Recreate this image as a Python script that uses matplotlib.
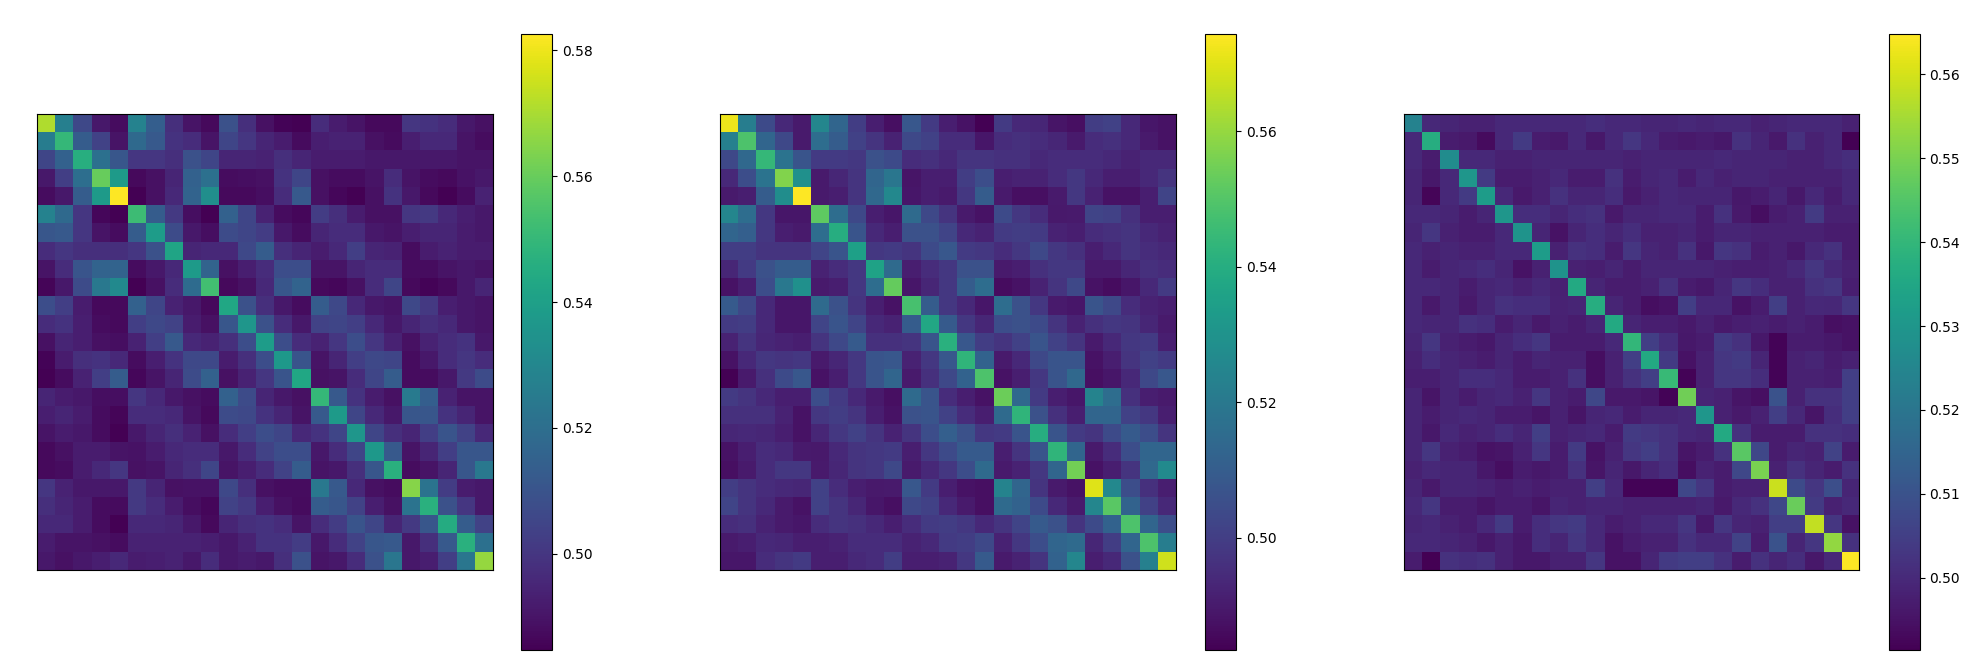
import numpy as np
import matplotlib
matplotlib.use('Agg')
import matplotlib.pyplot as plt

# values, in thousandths
matrix_a = [
    [571, 527, 506, 491, 488, 528, 514, 498, 490, 487, 509, 498, 489, 485.5, 485, 497, 492, 490, 487, 487, 500, 499, 497, 491, 489],
    [526, 550, 513, 504, 490, 518, 512, 499, 497, 490, 505, 500, 495, 492, 487.5, 493, 494, 494, 489, 487.5, 493, 496, 496, 490, 488],
    [505, 515, 546, 521, 511, 500, 500, 498, 509, 505, 495, 495, 494, 498, 495, 492, 492, 492, 491, 491, 491, 491, 491, 490, 490],
    [491, 503, 520, 560, 538, 487, 489, 495, 515, 521, 488, 488.5, 489, 499, 505, 489, 488, 488, 490, 497, 490, 488, 487, 489.5, 491],
    [488, 491, 513, 538, 582.6, 485, 489, 496, 516, 533, 487, 487, 488.5, 497, 512, 489, 486.5, 484.7, 489, 499, 491, 487, 485, 488, 494],
    [528, 518, 500, 486.5, 485, 552, 513, 501, 488.5, 485, 515, 505, 494, 488, 486.5, 502, 498, 492, 489, 489, 500, 501, 496, 493, 491],
    [511, 512, 500, 490, 488, 513, 539, 507, 491, 488.5, 507, 505, 502, 491, 488, 495, 497, 497, 491, 490, 493, 495, 495, 492, 491],
    [497, 500, 498, 498, 498, 500, 509, 542, 495, 496, 496, 506, 513, 498, 495, 492, 496, 503, 495, 494, 488, 492, 494, 492, 492],
    [490, 497, 510, 516, 516, 488, 491, 496, 538, 516, 489, 493, 497, 508, 508, 490, 490, 495, 497, 497, 488, 488, 490, 491, 490],
    [486, 491, 507, 524, 531, 485, 489, 497, 519, 553, 487, 489, 496, 511, 516, 487, 486.5, 489, 497, 505, 487, 485.5, 487, 491, 495],
    [508, 503, 492, 487, 487, 515, 505, 494, 491, 487, 543, 509, 498, 491, 488, 513, 506, 496, 491, 490, 506, 501, 493, 491, 490],
    [497, 499, 493, 488, 487, 503, 506, 504, 492, 489, 511, 536, 509, 497, 491, 504, 505, 503, 496, 491, 495, 498, 496, 491, 490],
    [489, 495, 493, 489, 488.5, 494, 503, 512, 496, 494, 498, 508, 539, 508, 497, 494, 500, 508, 500, 494, 489, 494, 497, 499, 491],
    [485.5, 492, 498, 499, 496, 488, 493, 499, 506, 506, 492, 498, 508, 537, 510, 490, 495, 503, 506, 505, 488, 491, 497, 500, 497],
    [485, 488, 494, 503, 513, 486.5, 490, 495, 507, 515, 489, 494, 500, 510, 543, 489, 490, 497, 505, 513, 488, 488, 491, 501, 507],
    [495, 492, 491, 488.5, 488.5, 500, 496, 491, 489, 488, 515, 507, 495, 491, 489, 550, 512, 499, 492, 489, 525, 514, 494, 490, 490],
    [493, 495, 492, 488, 486, 497, 497, 496, 490, 487, 507, 506, 499, 495, 490, 512, 538, 505, 496, 491, 511, 511, 499, 495, 490],
    [490, 492, 491, 488, 485, 491, 495, 498, 494, 489, 497, 503, 508, 505, 496, 499, 505, 536, 505, 498, 495, 503, 510, 504, 496],
    [487, 489, 492, 492, 490, 489.5, 492, 496, 497, 497, 491, 497, 504, 508, 508, 491, 497, 505, 537, 512, 490, 495, 503, 511, 511],
    [487, 488, 492, 496, 500, 489, 490, 495, 498, 505, 490, 493, 497, 504, 513, 490, 491, 498, 511, 547, 488, 490, 495, 511, 524],
    [500, 494, 491, 491, 491, 501, 495, 489, 489.5, 489.5, 506, 498, 489, 488, 488, 524, 512, 496, 489, 488, 565, 522, 502, 492, 491],
    [498, 495, 492, 488, 487.5, 501, 497, 492, 488.5, 486.5, 504, 501, 493, 489, 487.5, 513, 511, 504, 493, 489, 522, 547, 509, 500, 491],
    [496, 496, 492, 488, 485, 496, 496, 495, 491, 487, 495, 498, 499, 497, 490, 497, 502, 510, 505, 495, 501, 511, 545, 513, 504],
    [492, 490, 490, 489, 488, 494, 494, 494, 494, 493, 491, 494, 499, 499, 502, 491, 497, 504, 511, 512, 491, 498, 512, 547, 521],
    [491, 489, 491, 493, 496, 492, 493, 494, 491, 497, 491, 492, 491, 498, 509, 490, 491, 497, 509, 523, 491, 493, 503, 523, 567],
]

matrix_b = [
    [572, 522, 504, 494, 490, 525, 513, 500, 491, 487, 508, 499, 491, 488, 483.4, 499, 494, 493, 488.5, 487, 500, 501, 494, 489, 488],
    [523, 549, 513, 503, 490, 516, 510, 501, 497, 492, 503, 501, 495, 495, 489, 495, 496, 495, 493, 490, 495, 496, 494, 490, 488],
    [503, 514, 544, 518, 507, 499, 499, 498, 506, 504, 495, 496, 494, 497, 497, 496, 496, 494, 495, 495, 495, 494, 492, 494, 494],
    [494, 505, 518, 557, 529, 490, 493, 497, 513, 519, 488.5, 491, 491, 500, 505, 491, 492, 492, 495, 498, 494, 491, 491, 494, 497],
    [490, 491, 510, 528, 574.4, 490, 491, 497, 514, 526, 489, 491, 490, 498, 510, 490, 487, 487, 490, 498, 492, 488, 488, 491, 502],
    [525, 516, 498, 489, 489, 552, 516, 503, 491, 489, 515, 503, 497, 490, 488, 504, 498, 495, 489.5, 490, 502, 501, 496, 491, 491],
    [513, 511, 498, 491, 490, 516, 540, 507, 494, 491, 506, 506, 502, 494, 492, 499, 500, 499, 492, 491, 495, 496, 497, 494, 492],
    [500, 500, 497, 497, 497, 502, 507, 535, 498, 499, 497, 504, 508, 499, 498, 495, 498, 503, 498, 496, 491, 494, 497, 495, 494],
    [493, 499, 506, 510, 510, 492, 495, 498, 536, 515, 491, 495, 498, 506, 506, 490, 491, 496, 498, 498, 490, 490, 493, 496, 495],
    [488, 491, 505, 520, 529, 490, 491, 498, 516, 553, 489, 493, 498, 510, 516, 486.5, 488, 492, 497, 503, 488, 486.5, 489, 494, 499],
    [509, 503, 494, 489, 489, 515, 506, 497, 491, 488, 548, 510, 498, 494, 489, 516, 506, 498, 490, 489, 507, 503, 495, 492, 491],
    [499, 500, 494, 489, 489, 502, 507, 502, 494, 492, 510, 538, 509, 498, 493, 505, 506, 504, 497, 492, 496, 498, 497, 493, 490],
    [492, 497, 493, 492, 491, 497, 503, 509, 496, 496, 497, 507, 541, 508, 500, 497, 501, 507, 501, 497, 490, 494, 498, 499, 491],
    [488, 494, 498, 497, 498, 490, 493, 498, 507, 508, 492, 498, 508, 543, 512, 490, 494, 503, 507, 507, 488, 491, 497, 501, 499],
    [483.4, 490, 496, 504, 508, 488, 491, 498, 507, 513, 490, 496, 503, 512, 549, 488, 491, 498, 507, 514, 487, 489, 494, 503, 508],
    [499, 497, 494, 491, 491, 505, 499, 494, 490, 487, 515, 507, 495, 491, 488, 554, 514, 499, 491, 489, 524, 516, 496, 491, 490],
    [496, 496, 496, 492, 488, 498, 500, 497, 491, 488, 506, 507, 501, 495, 491, 515, 543, 506, 496, 491, 513, 513, 501, 498, 491],
    [493, 494, 493, 491, 488, 493, 498, 501, 497, 492, 497, 505, 511, 506, 498, 499, 507, 540, 507, 499, 497, 504, 509, 505, 497],
    [488, 491, 495, 494, 490, 489.5, 494, 497, 498, 499, 491, 498, 504, 509, 509, 491, 497, 507, 543, 513, 490, 495, 505, 513, 513],
    [487, 490, 495, 498, 498, 490, 493, 497, 498, 503, 490, 494, 498, 505, 515, 490, 492, 498, 513, 555, 488, 491, 497, 514, 527],
    [500, 497, 495, 494, 493, 501, 495, 491, 489.5, 490, 508, 499, 491, 488, 487, 524, 513, 497, 490, 488, 570, 526, 505, 496, 491],
    [502, 497, 494, 490, 488, 501, 497, 493, 489, 487, 503, 501, 494, 490, 487, 515, 512, 504, 494, 490, 525, 551, 512, 501, 494],
    [495, 496, 492, 490, 489, 495, 497, 496, 494, 491, 495, 499, 500, 498, 494, 497, 502, 509, 506, 497, 504, 512, 549, 513, 505],
    [490, 491, 494, 493, 491, 491, 492, 495, 495, 495, 492, 494, 499, 500, 503, 492, 498, 505, 513, 515, 493, 500, 513, 549, 522],
    [489, 489, 495, 497, 499, 491, 491, 494, 495, 500, 491, 491, 492, 498, 509, 490, 492, 497, 512, 525, 491, 494, 506, 523, 568],
]

matrix_c = [
    [524, 500, 499, 498, 498, 500, 500, 500, 500, 500, 501, 500, 500, 499, 499, 500, 499, 500, 500, 498, 499, 500, 500, 500, 498],
    [500, 537, 497, 496.5, 493.5, 500, 504, 497, 496.5, 500, 496, 500, 503, 500, 497, 496.5, 497, 496, 502, 499, 496.5, 502, 498, 500, 491.4],
    [500, 497, 527, 500, 500, 498, 498, 499, 499, 499, 499, 499, 498, 499, 499, 499, 499, 500, 499, 499, 499, 498, 498, 500, 501],
    [499, 496, 500, 530, 504, 497, 497, 498, 500, 497, 497, 502, 497, 499, 500, 497, 500, 498, 499, 499, 498, 498, 498, 498, 500],
    [499, 492.5, 500, 504, 532, 500, 496.5, 498, 502, 499, 499, 501, 496.5, 498, 500, 499, 499, 499, 496, 497, 499, 496, 500, 497, 500],
    [500, 500, 499, 497, 499, 530, 501, 501, 499, 501, 502, 496.5, 499, 499, 500, 500, 497, 502, 496.5, 494, 497, 498, 504, 498, 498],
    [499, 503, 498, 497, 497, 500, 529, 499, 495, 499, 501, 499, 501, 498, 498, 499, 497, 499, 499, 498, 498, 498, 498, 497, 497],
    [500, 498, 499, 498, 498, 500, 500, 532, 498, 502, 501, 497, 503, 499, 498, 502, 496, 503, 502, 497, 498, 496, 500, 502, 497],
    [500, 497, 499, 500, 501, 499, 495, 498, 529, 498, 497.5, 499, 497, 499, 499, 499, 499, 498, 497.5, 497.5, 498, 500, 503, 500, 498],
    [500, 500, 499, 497, 499, 500, 498, 500, 498, 536, 499, 497, 497, 498, 502, 497, 496, 499, 503, 501, 498, 498, 502, 503, 497.5],
    [500, 496.5, 499, 496.5, 499, 502, 501, 501, 498.5, 499, 537, 499, 497, 494, 495, 505, 499.5, 499.5, 495, 497, 505, 498, 500, 499.5, 503],
    [500, 499, 499, 502, 501, 497, 499, 496.5, 498, 497, 499, 536, 499, 497.5, 497.5, 496.5, 498, 496.5, 497.5, 498, 497, 498, 497, 494.5, 495],
    [499, 503, 498, 497, 496, 499, 501, 503, 497, 497, 497, 500, 540, 505, 501, 496, 497, 504, 502, 496, 492, 497, 497, 496, 495],
    [498, 501, 499, 498, 497, 499, 497, 499, 498, 498, 494, 498, 505, 536, 504, 495, 498, 503, 504, 499, 492, 498, 499, 497, 498],
    [497.5, 497.5, 499, 501, 501, 500, 497, 497, 498, 502, 494, 498, 502, 505, 541, 492, 498, 503, 503, 501, 492, 498, 498, 497.5, 505],
    [499, 495.5, 499, 497, 499, 500, 498, 503, 498, 497, 507, 496.5, 496.5, 495.5, 492, 549, 499, 498, 495.5, 494.5, 510, 498, 502, 502, 505],
    [499, 497, 499, 500, 499, 497, 497, 495.5, 498, 495.5, 499, 500, 497, 499, 499, 500, 530, 498, 496.5, 498, 505, 500, 495.5, 501, 505],
    [499, 496, 500, 498, 499, 501, 499, 505, 498, 499, 500, 497, 504, 503, 502, 500, 499, 536, 502, 497, 497, 497, 502, 502, 501],
    [499, 503, 498, 497, 495, 495.5, 498, 503, 497, 504, 495, 498, 503, 505, 502, 495.5, 497, 502, 546, 507, 497, 499, 498, 506, 497],
    [498, 500, 499, 499, 496, 494, 497, 496, 497, 502, 495.5, 499, 496, 499, 501, 494, 498.5, 497, 507, 550, 498, 502, 499, 497, 502],
    [499, 496.5, 499, 499, 498.5, 497, 498, 497, 498, 498, 505, 500, 492, 492, 492, 507, 503, 497, 498, 498, 559, 508, 503, 509, 499],
    [500, 503, 497, 497, 495.5, 497, 497, 495.5, 499, 498, 499, 499, 498, 498, 498, 498, 499, 496.5, 500, 502, 507, 548, 504, 498, 500],
    [499, 500, 498, 497, 500, 504, 497, 501, 503, 504, 500, 497, 498, 500, 500, 503, 496, 503, 499, 498, 505, 505, 558, 503, 495],
    [500, 500, 499, 498, 496, 498, 496, 501, 499, 503, 500, 495, 497, 498, 498, 502, 500, 500, 506, 497, 510, 499, 503, 553, 502],
    [497, 491.4, 502, 501, 502, 498, 496, 496, 498, 498, 503, 495, 495, 499, 504, 505, 505, 502, 497, 502, 499, 501, 496, 500, 564.8],
]

ticks_a = [0.50, 0.52, 0.54, 0.56, 0.58]
ticks_b = [0.50, 0.52, 0.54, 0.56]
ticks_c = [0.50, 0.51, 0.52, 0.53, 0.54, 0.55, 0.56]

W, H = 1981, 671
fig = plt.figure(figsize=(W / 100, H / 100), dpi=100)


def px_box(left, top, right, bottom):
    # pixel box -> figure fraction
    return [left / W, 1 - bottom / H, (right - left) / W, (bottom - top) / H]


panels = [
    (matrix_a, ticks_a, 37.3, 521.4),
    (matrix_b, ticks_b, 720.4, 1205),
    (matrix_c, ticks_c, 1403.6, 1888.7),
]

for data, ticks, left, bar_left in panels:
    ax = fig.add_axes(px_box(left, 114.3, left + 455.5, 569.8))
    im = ax.imshow(np.array(data) / 1000, cmap='viridis', aspect='equal')
    ax.set_xticks([])
    ax.set_yticks([])

    cax = fig.add_axes(px_box(bar_left, 34, bar_left + 31, 650))
    cbar = fig.colorbar(im, cax=cax)
    cbar.set_ticks(ticks)
    cbar.ax.set_yticklabels(['%.2f' % t for t in ticks])

fig.savefig('out.png', dpi=100)
